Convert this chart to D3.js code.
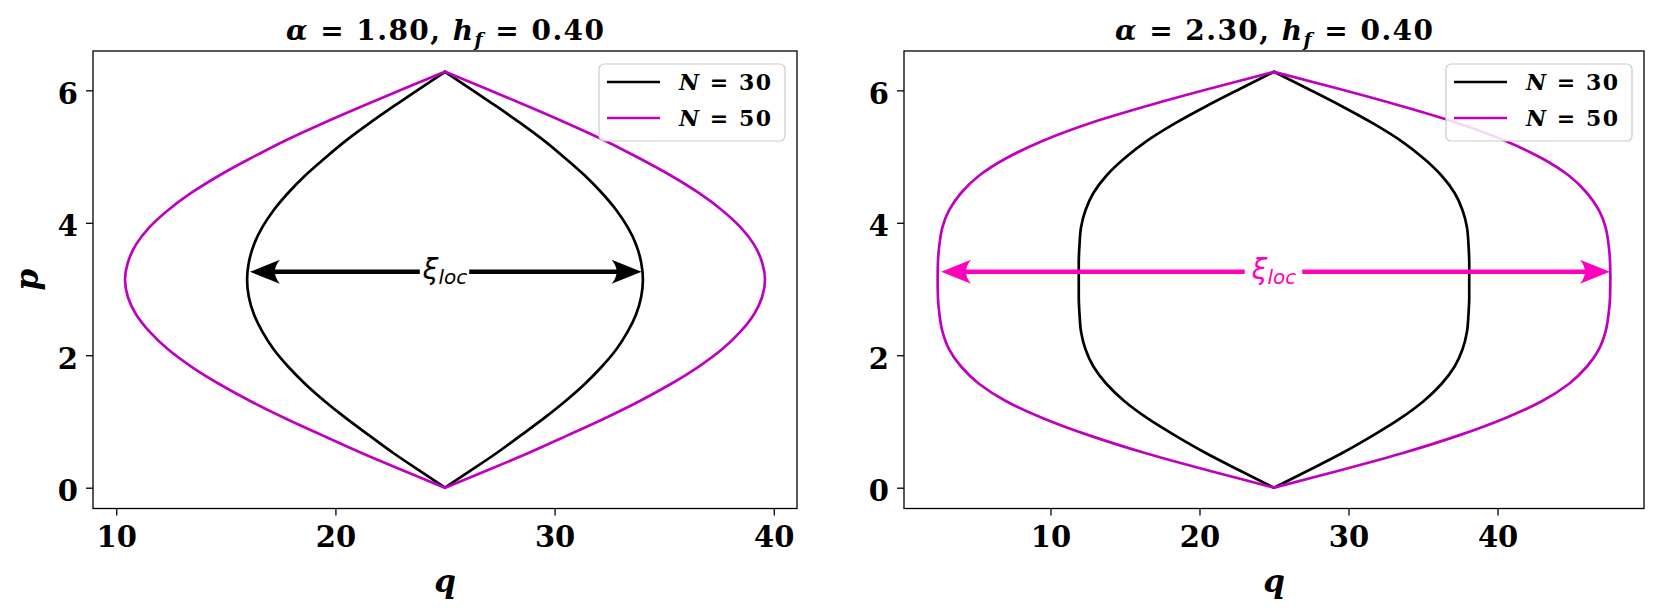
<!DOCTYPE html>
<html>
<head>
<meta charset="utf-8">
<script src="https://cdn.jsdelivr.net/npm/d3@7"></script>
<style>
  html, body { margin: 0; padding: 0; background: #ffffff; }
  svg { display: block; }
</style>
</head>
<body>
<svg id="chart" width="1660" height="615"></svg>
<script>
// ---------------- data ----------------
const pVals = [0, 0.26, 0.52, 0.79, 1.05, 1.31, 1.57, 1.83, 2.09, 2.36, 2.62, 2.88, 3.14,
               3.40, 3.67, 3.93, 4.19, 4.45, 4.71, 4.97, 5.24, 5.50, 5.76, 6.02, 6.28];

// panel 1 : alpha = 1.80
const qLeftA18N30  = [25, 23.82, 22.66, 21.54, 20.48, 19.50, 18.61, 17.84, 17.18, 16.66, 16.28, 16.05, 15.97,
                      16.05, 16.28, 16.66, 17.18, 17.84, 18.61, 19.50, 20.48, 21.54, 22.66, 23.82, 25];
const qRightA18N30 = [25, 26.18, 27.34, 28.46, 29.52, 30.50, 31.39, 32.16, 32.82, 33.34, 33.72, 33.95, 34.03,
                      33.95, 33.72, 33.34, 32.82, 32.16, 31.39, 30.50, 29.52, 28.46, 27.34, 26.18, 25];
const qLeftA18N50  = [25, 23.09, 21.22, 19.41, 17.70, 16.11, 14.68, 13.42, 12.36, 11.51, 10.90, 10.53, 10.40,
                      10.53, 10.90, 11.51, 12.36, 13.42, 14.68, 16.11, 17.70, 19.41, 21.22, 23.09, 25];
const qRightA18N50 = [25, 26.91, 28.78, 30.59, 32.30, 33.89, 35.32, 36.58, 37.64, 38.49, 39.10, 39.47, 39.60,
                      39.47, 39.10, 38.49, 37.64, 36.58, 35.32, 33.89, 32.30, 30.59, 28.78, 26.91, 25];

// panel 2 : alpha = 2.30
const qLeftA23N30  = [25, 22.7, 20.45, 18.35, 16.5, 14.95, 13.75, 12.88, 12.35, 12.05, 11.95, 11.9, 11.9,
                      11.9, 11.95, 12.05, 12.35, 12.88, 13.75, 14.95, 16.5, 18.35, 20.45, 22.7, 25];
const qRightA23N30 = [25, 27.3, 29.55, 31.65, 33.5, 35.05, 36.25, 37.12, 37.65, 37.95, 38.05, 38.1, 38.1,
                      38.1, 38.05, 37.95, 37.65, 37.12, 36.25, 35.05, 33.5, 31.65, 29.55, 27.3, 25];
const qLeftA23N50  = [25, 20.6, 16.4, 12.6, 9.5, 7.0, 5.2, 4.0, 3.2, 2.75, 2.55, 2.45, 2.43,
                      2.45, 2.55, 2.75, 3.2, 4.0, 5.2, 7.0, 9.5, 12.6, 16.4, 20.6, 25];
const qRightA23N50 = [25, 29.4, 33.6, 37.4, 40.5, 43.0, 44.8, 46.0, 46.8, 47.25, 47.45, 47.55, 47.57,
                      47.55, 47.45, 47.25, 46.8, 46.0, 44.8, 43.0, 40.5, 37.4, 33.6, 29.4, 25];

const alphaLabels = ["1.80", "2.30"];
const hfLabels = ["0.40", "0.40"];
const seriesNames = ["30", "50"];
const seriesColors = ["#000000", "#bf00bf"];
const xTicks = [10, 20, 30, 40];
const yTicks = [0, 2, 4, 6];
const arrowQStart = [16.1, 2.66];
const arrowQEnd = [33.97, 47.54];
const arrowP = [3.26, 3.26];
const arrowColors = ["#000000", "#ff00bf"];

// ---------------- layout ----------------
const svg = d3.select("#chart");
const panels = [
  { left: 93, right: 797, curves: [[qLeftA18N30, qRightA18N30], [qLeftA18N50, qRightA18N50]] },
  { left: 904, right: 1644, curves: [[qLeftA23N30, qRightA23N30], [qLeftA23N50, qRightA23N50]] }
];
const yTop = 51, yBottom = 508.5;
const serif = "'DejaVu Serif', serif";

function padded(ext) {
  const d = (ext[1] - ext[0]) * 0.05;
  return [ext[0] - d, ext[1] + d];
}

panels.forEach((P, i) => {
  const allQ = P.curves.flat(2);
  const x = d3.scaleLinear().domain(padded(d3.extent(allQ))).range([P.left, P.right]);
  const y = d3.scaleLinear().domain(padded(d3.extent(pVals))).range([yBottom, yTop]);
  const g = svg.append("g");

  const clipId = "clip" + i;
  svg.append("clipPath").attr("id", clipId).append("rect")
    .attr("x", P.left).attr("y", yTop).attr("width", P.right - P.left).attr("height", yBottom - yTop);

  const plot = g.append("g").attr("clip-path", `url(#${clipId})`);
  const line = d3.line().x(d => x(d[0])).y(d => y(d[1])).curve(d3.curveMonotoneY);

  P.curves.forEach((c, s) => {
    const leftPts = pVals.map((p, j) => [c[0][j], p]);
    const rightPts = pVals.map((p, j) => [c[1][j], p]);
    [leftPts, rightPts].forEach(pts => {
      plot.append("path").attr("d", line(pts))
        .attr("fill", "none").attr("stroke", seriesColors[s])
        .attr("stroke-width", 2.7).attr("stroke-linejoin", "round").attr("stroke-linecap", "round");
    });
  });

  // arrow
  const ay = y(arrowP[i]);
  const x0 = x(arrowQStart[i]), x1 = x(arrowQEnd[i]);
  const col = arrowColors[i];
  const hl = 30, hw = 12;
  plot.append("line").attr("x1", x0 + 20).attr("x2", x1 - 20).attr("y1", ay).attr("y2", ay)
    .attr("stroke", col).attr("stroke-width", 4.5);
  plot.append("path")
    .attr("d", `M${x0},${ay} L${x0 + hl},${ay - hw} Q${x0 + 20},${ay} ${x0 + hl},${ay + hw} Z`)
    .attr("fill", col);
  plot.append("path")
    .attr("d", `M${x1},${ay} L${x1 - hl},${ay - hw} Q${x1 - 20},${ay} ${x1 - hl},${ay + hw} Z`)
    .attr("fill", col);
  const xc = x(25);
  const lbl = plot.append("text").attr("x", xc).attr("y", ay + 7)
    .attr("text-anchor", "middle").attr("fill", col)
    .style("font-family", "'DejaVu Sans', sans-serif").style("font-style", "italic");
  lbl.append("tspan").text("ξ").style("font-size", "28px");
  lbl.append("tspan").text("loc").style("font-size", "20px").attr("dy", 5);
  const bb = lbl.node().getBBox();
  const padX = i === 0 ? 2 : 6;
  plot.insert("rect", "text")
    .attr("x", bb.x - padX).attr("y", ay - 3).attr("width", bb.width + 2 * padX).attr("height", 6)
    .attr("fill", "#ffffff");

  // frame
  g.append("rect").attr("x", P.left).attr("y", yTop)
    .attr("width", P.right - P.left).attr("height", yBottom - yTop)
    .attr("fill", "none").attr("stroke", "#000").attr("stroke-width", 1.3);

  // axes
  const xa = g.append("g").attr("transform", `translate(0,${yBottom})`)
    .call(d3.axisBottom(x).tickValues(xTicks).tickSize(7).tickPadding(11).tickFormat(d3.format("d")));
  const ya = g.append("g").attr("transform", `translate(${P.left},0)`)
    .call(d3.axisLeft(y).tickValues(yTicks).tickSize(7).tickPadding(8).tickFormat(d3.format("d")));
  [xa, ya].forEach(a => {
    a.select(".domain").remove();
    a.selectAll(".tick line").attr("stroke", "#000").attr("stroke-width", 1.3);
    a.selectAll(".tick text").attr("fill", "#000")
      .style("font-family", serif).style("font-weight", "bold").style("font-size", "29px");
  });
  ya.selectAll(".tick text").attr("dy", "0.45em");

  // title
  const cx = (P.left + P.right) / 2;
  const t = g.append("text").attr("x", cx).attr("y", 40).attr("text-anchor", "middle")
    .style("font-family", serif).style("font-weight", "bold").style("font-size", "28px")
    .attr("textLength", 318).attr("lengthAdjust", "spacing");
  t.append("tspan").text("α").style("font-style", "italic");
  t.append("tspan").text(" = " + alphaLabels[i] + ", ");
  t.append("tspan").text("h").style("font-style", "italic");
  t.append("tspan").text("f").style("font-style", "italic").style("font-size", "19px").attr("dy", 6);
  t.append("tspan").text(" = " + hfLabels[i]).attr("dy", -6);

  // x label
  g.append("text").attr("x", cx).attr("y", 592).attr("text-anchor", "middle")
    .style("font-family", serif).style("font-weight", "bold").style("font-style", "italic")
    .style("font-size", "31px").text("q");
  if (i === 0) {
    g.append("text").attr("transform", `translate(38,${(yTop + yBottom) / 2}) rotate(-90)`)
      .attr("text-anchor", "middle")
      .style("font-family", serif).style("font-weight", "bold").style("font-style", "italic")
      .style("font-size", "31px").text("p");
  }

  // legend
  const lw = 186, lh = 77;
  const lx = P.right - 12 - lw, ly = 64;
  const lg = g.append("g");
  lg.append("rect").attr("x", lx).attr("y", ly).attr("width", lw).attr("height", lh)
    .attr("rx", 5).attr("fill", "#ffffff").attr("fill-opacity", 0.85)
    .attr("stroke", "#cccccc").attr("stroke-width", 1.2);
  seriesNames.forEach((n, s) => {
    const yy = ly + 18 + s * 36;
    lg.append("line").attr("x1", lx + 8).attr("x2", lx + 61).attr("y1", yy).attr("y2", yy)
      .attr("stroke", seriesColors[s]).attr("stroke-width", 2.7);
    const tx = lg.append("text").attr("x", lx + 80).attr("y", yy + 8)
      .style("font-family", serif).style("font-weight", "bold").style("font-size", "22px")
      .attr("textLength", 92).attr("lengthAdjust", "spacing");
    tx.append("tspan").text("N").style("font-style", "italic");
    tx.append("tspan").text(" = " + n);
  });
});
</script>
</body>
</html>
